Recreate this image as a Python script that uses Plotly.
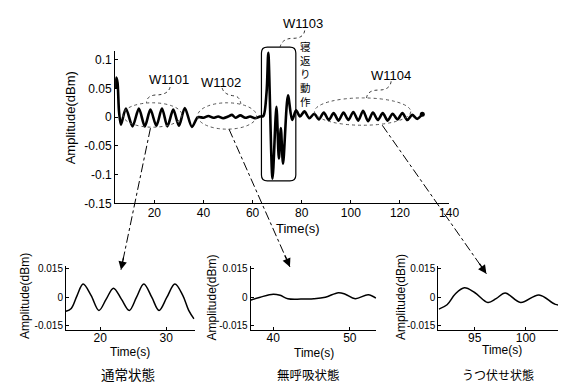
import plotly.graph_objects as go

W, H = 566, 387

# ---------------- data ----------------
main_time = [4.2, 4.5, 5.0, 5.6, 6.4, 8.4, 11.1, 13.7, 16.1, 18.4, 20.8, 23.1, 25.3, 27.7,
             30.0, 32.4, 35.3, 37.7, 40.0, 42.0, 44.0, 46.0, 48.0, 50.0, 51.6, 53.0, 55.0,
             57.0, 59.0, 61.0, 63.0, 64.4, 65.7, 66.4, 68.1, 69.7, 70.7, 71.5, 72.4, 74.4,
             76.1, 77.7, 79.3, 81.1, 83.1, 85.1, 87.0, 89.0, 91.0, 93.0, 95.0, 97.0, 99.0,
             101.0, 103.0, 105.0, 107.0, 109.0, 111.0, 113.0, 115.0, 117.0, 119.0, 121.0,
             123.0, 125.0, 127.0, 129.1]
main_amp = [0.05, 0.069, 0.06, 0.01, -0.013, 0.015, -0.016, 0.015, -0.016, 0.013, -0.015,
            0.015, -0.016, 0.013, -0.015, 0.016, -0.017, 0.0, -0.001, 0.002, -0.001, 0.001,
            -0.002, 0.001, 0.004, -0.001, 0.003, -0.001, 0.001, -0.002, 0.001, 0.002, 0.044,
            0.112, -0.107, 0.018, -0.072, -0.019, -0.081, 0.038, -0.005, 0.012, 0.001, 0.010,
            -0.002, 0.006, -0.004, 0.008, -0.005, 0.007, -0.006, 0.008, -0.005, 0.009,
            -0.006, 0.011, -0.007, 0.008, -0.005, 0.007, -0.006, 0.006, -0.004, 0.007,
            -0.005, 0.004, -0.003, 0.005]

normal_time = [14.8, 15.6, 16.5, 17.4, 18.6, 19.8, 20.9, 22.0, 23.2, 24.4, 25.5, 26.6,
               27.8, 28.9, 30.1, 31.3, 32.5, 33.4, 34.2]
normal_amp = [-0.0075, -0.006, 0.001, 0.007, 0.001, -0.007, -0.001, 0.0048, -0.001, -0.007,
              0.0, 0.007, 0.0, -0.007, 0.0, 0.007, 0.001, -0.007, -0.0115]

apnea_time = [37.0, 38.3, 40.0, 40.9, 41.9, 43.6, 45.3, 46.8, 48.5, 49.4, 50.7, 52.4, 53.4]
apnea_amp = [-0.0016, 0.0, 0.0016, 0.001, -0.0008, -0.001, -0.0008, 0.0, 0.0024, 0.0016,
             -0.0008, 0.0013, -0.0005]

prone_time = [91.5, 92.3, 93.1, 94.0, 95.0, 96.3, 97.1, 98.0, 99.5, 101.3, 102.9, 103.8]
prone_amp = [-0.0063, -0.004, 0.0017, 0.005, 0.0025, -0.0028, -0.0008, 0.0022, -0.0028,
             0.0012, -0.0038, -0.0042]

main_xticks = [20, 40, 60, 80, 100, 120, 140]
main_yticks = [-0.15, -0.1, -0.05, 0, 0.05, 0.1]
main_yticktext = ["-0.15", "-0.1", "-0.05", "0", "0.05", "0.1"]
sub_yticks = [-0.015, 0, 0.015]
sub_yticktext = ["-0.015", "0", "0.015"]
normal_xticks = [20, 30]
apnea_xticks = [40, 50]
prone_xticks = [95, 100]

window_labels = ["W1101", "W1102", "W1103", "W1104"]
state_labels = ["通常状態", "無呼吸状態", "うつ伏せ状態"]
motion_label = "寝返り動作"
x_title = "Time(s)"
y_title = "Amplitude(dBm)"

# ---------------- helpers ----------------
LAT = "Liberation Sans, Arial, sans-serif"
CJK = "Noto Sans CJK JP, sans-serif"


def px(x):
    return x / W


def py(y):
    return 1 - y / H


def axis(domain, rng, anchor, tickvals=None, ticktext=None, size=12, standoff=0):
    d = dict(domain=domain, range=rng, anchor=anchor, showline=True, linecolor="black",
             linewidth=1, ticks="inside", ticklen=3, tickcolor="black", showgrid=False,
             zeroline=False, tickfont=dict(family=LAT, size=size, color="black"),
             fixedrange=True, ticklabelstandoff=standoff)
    if tickvals is not None:
        d["tickvals"] = tickvals
    if ticktext is not None:
        d["ticktext"] = ticktext
    return d


fig = go.Figure()
line_main = dict(color="black", width=2.6, shape="spline", smoothing=0.8)
fig.add_trace(go.Scatter(x=main_time, y=main_amp, mode="lines", line=line_main,
                         xaxis="x", yaxis="y", hoverinfo="skip"))
fig.add_trace(go.Scatter(x=main_time[-1:], y=main_amp[-1:], mode="markers",
                         marker=dict(color="black", size=5), xaxis="x", yaxis="y"))
sub_line = dict(color="black", width=1.5, shape="spline", smoothing=1.0)
fig.add_trace(go.Scatter(x=normal_time, y=normal_amp, mode="lines", line=sub_line,
                         xaxis="x2", yaxis="y2"))
fig.add_trace(go.Scatter(x=apnea_time, y=apnea_amp, mode="lines", line=sub_line,
                         xaxis="x3", yaxis="y3"))
fig.add_trace(go.Scatter(x=prone_time, y=prone_amp, mode="lines", line=sub_line,
                         xaxis="x4", yaxis="y4"))

sub_ydom = [py(328), py(262)]
sub_yrng = [-0.0176, 0.0166]

layout = dict(
    width=W, height=H, autosize=False, margin=dict(l=0, r=0, t=0, b=0),
    paper_bgcolor="white", plot_bgcolor="white", showlegend=False,
    xaxis=axis([px(109), px(449)], [4, 140], "y", main_xticks, standoff=-2),
    yaxis=axis([py(198), py(42)], [-0.15, 0.115], "x", main_yticks, main_yticktext),
    xaxis2=axis([px(59), px(190)], [14.8, 34.3], "y2", normal_xticks, size=12, standoff=-4),
    yaxis2=axis(sub_ydom, sub_yrng, "x2", sub_yticks, sub_yticktext, size=10),
    xaxis3=axis([px(247), px(375)], [37.05, 53.46], "y3", apnea_xticks, size=12, standoff=-4),
    yaxis3=axis(sub_ydom, sub_yrng, "x3", sub_yticks, sub_yticktext, size=10),
    xaxis4=axis([px(438), px(565)], [91.44, 103.65], "y4", prone_xticks, size=12, standoff=-4),
    yaxis4=axis(sub_ydom, sub_yrng, "x4", sub_yticks, sub_yticktext, size=10),
)
fig.update_layout(**layout)

shapes = []
ell_style = dict(color="#555555", width=1, dash="dot")
# window ellipses (pixel boxes)
for (x0, y0, x1, y1) in [(117, 95, 177, 120), (193, 95, 253, 122), (312, 90, 410, 118)]:
    shapes.append(dict(type="circle", xref="paper", yref="paper", x0=px(x0), x1=px(x1),
                       y0=py(y1), y1=py(y0), line=ell_style))

# rounded rectangle W1103
rx0, ry0, rx1, ry1, r = 258, 38, 293, 175, 6


def P(x, y):
    return f"{px(x):.5f},{py(y):.5f}"


path = (f"M{P(rx0 + r, ry0)} L{P(rx1 - r, ry0)} Q{P(rx1, ry0)} {P(rx1, ry0 + r)} "
        f"L{P(rx1, ry1 - r)} Q{P(rx1, ry1)} {P(rx1 - r, ry1)} L{P(rx0 + r, ry1)} "
        f"Q{P(rx0, ry1)} {P(rx0, ry1 - r)} L{P(rx0, ry0 + r)} Q{P(rx0, ry0)} {P(rx0 + r, ry0)} Z")
shapes.append(dict(type="path", xref="paper", yref="paper", path=path,
                   line=dict(color="black", width=1.2)))

# leader lines from labels
leaders = [
    [(165, 79), (163, 87), (150, 87), (141, 88), (141, 95)],
    [(218, 80), (220, 87), (231, 88), (236, 89), (237, 96)],
    [(302, 21), (301, 29), (290, 29), (279, 29), (277, 38)],
    [(390, 73), (389, 82), (377, 82), (366, 82), (365, 90)],
]
for pts in leaders:
    p = (f"M{P(*pts[0])} Q{P(*pts[1])} {P(*pts[2])} Q{P(*pts[3])} {P(*pts[4])}")
    shapes.append(dict(type="path", xref="paper", yref="paper", path=p,
                       line=dict(color="#333333", width=1, dash="dot")))

# dash-dot arrows
arrows = [((145, 121), (115, 266)), ((225, 122), (287, 263)), ((381, 118), (487, 270))]
annotations = []
for (sx, sy), (ex, ey) in arrows:
    shapes.append(dict(type="line", xref="paper", yref="paper", x0=px(sx), y0=py(sy),
                       x1=px(ex), y1=py(ey), line=dict(color="black", width=1, dash="dashdot")))
    dx, dy = sx - ex, sy - ey
    L = (dx * dx + dy * dy) ** 0.5
    annotations.append(dict(xref="paper", yref="paper", x=px(ex), y=py(ey), text="",
                            showarrow=True, arrowhead=2, arrowsize=1.3, arrowwidth=1.3,
                            arrowcolor="black", ax=dx / L * 14, ay=dy / L * 14))


def txt(s, x, y, size, family=LAT, angle=0):
    annotations.append(dict(xref="paper", yref="paper", x=px(x), y=py(y), text=s,
                            showarrow=False, xanchor="center", yanchor="middle",
                            textangle=angle, font=dict(family=family, size=size, color="black")))


for s, (x, y) in zip(window_labels, [(164, 71), (217, 74), (300, 14), (390, 67)]):
    txt(s, x, y, 13)
txt("<br>".join(motion_label), 303, 66, 10.5, CJK)
txt(y_title, 64, 110, 13, angle=-90)
txt(x_title, 295, 224, 13)
for (x, y) in [(17, 293), (208, 294), (400, 294)]:
    txt(y_title, x, y, 12, angle=-90)
for (x, y) in [(124, 350), (311, 351), (503, 348)]:
    txt(x_title, x, y, 12)
for s, (x, y), sz in zip(state_labels, [(122, 373), (306, 373), (499, 373)], [13.5, 12.5, 12]):
    txt(s, x, y, sz, CJK)

fig.update_layout(shapes=shapes, annotations=annotations)
fig.write_html("out.html")
